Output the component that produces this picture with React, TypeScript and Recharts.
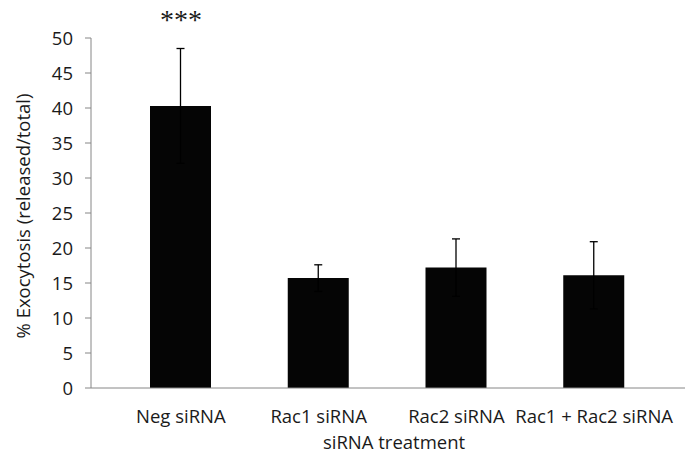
import { BarChart, Bar, XAxis, YAxis, ErrorBar, ReferenceDot, Label, useOffset } from 'recharts';

/* -------------------------------------------------------------------------- */
/*  Data                                                                      */
/* -------------------------------------------------------------------------- */

const treatments = ['Neg siRNA', 'Rac1 siRNA', 'Rac2 siRNA', 'Rac1 + Rac2 siRNA'];
const exocytosis = [40.3, 15.7, 17.2, 16.1];
const stdErr = [8.2, 1.9, 4.1, 4.8];
const yTicks = [0, 5, 10, 15, 20, 25, 30, 35, 40, 45, 50];

const data = treatments.map((name, i) => ({
  name,
  value: exocytosis[i],
  err: stdErr[i],
}));

const FONT = '"Open Sans", sans-serif';
const FONT_SIZE = 18.5;
const AXIS_GREY = '#868686';
const TEXT = '#1a1a1a';

/* -------------------------------------------------------------------------- */
/*  Small pieces                                                              */
/* -------------------------------------------------------------------------- */

// little stub that carries the y axis below the category axis
function OriginTick() {
  const offset = useOffset();
  if (!offset) return null;
  const x = offset.left;
  const y = offset.top + offset.height;
  return <line x1={x} y1={y} x2={x} y2={y + 7} stroke={AXIS_GREY} strokeWidth={1} />;
}

function YTitle({ viewBox }: { viewBox?: { x: number; y: number; width: number; height: number } }) {
  if (!viewBox) return null;
  const cx = 22;
  const cy = viewBox.y + viewBox.height / 2 + 3;
  return (
    <text
      x={cx}
      y={cy}
      transform={`rotate(-90 ${cx} ${cy})`}
      textAnchor="middle"
      dominantBaseline="central"
      fontFamily={FONT}
      fontSize={FONT_SIZE}
      fill={TEXT}
    >
      % Exocytosis (released/total)
    </text>
  );
}

function XTitle({ viewBox }: { viewBox?: { x: number; y: number; width: number; height: number } }) {
  if (!viewBox) return null;
  return (
    <text
      x={viewBox.x + viewBox.width / 2 + 6}
      y={449}
      textAnchor="middle"
      fontFamily={FONT}
      fontSize={FONT_SIZE}
      fill={TEXT}
    >
      siRNA treatment
    </text>
  );
}

function Stars({ viewBox }: { viewBox?: { x: number; y: number } }) {
  if (!viewBox) return null;
  return (
    <text
      x={viewBox.x}
      y={viewBox.y - 20}
      textAnchor="middle"
      fontFamily='"Liberation Serif", serif'
      fontSize={28}
      fill={TEXT}
    >
      ***
    </text>
  );
}

/* -------------------------------------------------------------------------- */
/*  Chart                                                                     */
/* -------------------------------------------------------------------------- */

export default function App() {
  const top = data[0];
  return (
    <div style={{ position: 'absolute', left: 0, top: 0, background: '#fff' }}>
      <BarChart width={685} height={460} data={data} margin={{ top: 38, right: 0, bottom: 0, left: 0 }}>
        <XAxis
          dataKey="name"
          height={72}
          padding={{ left: 21, right: 22 }}
          axisLine={{ stroke: AXIS_GREY }}
          tickLine={false}
          tickSize={6}
          tickMargin={16}
          tick={{ fontFamily: FONT, fontSize: FONT_SIZE, fill: TEXT }}
          interval={0}
        >
          <Label content={<XTitle />} />
        </XAxis>
        <YAxis
          width={91}
          domain={[0, 50]}
          ticks={yTicks}
          interval={0}
          axisLine={{ stroke: AXIS_GREY }}
          tickLine={{ stroke: AXIS_GREY }}
          tickSize={6}
          tickMargin={12}
          tick={{ fontFamily: FONT, fontSize: FONT_SIZE, fill: TEXT }}
        >
          <Label content={<YTitle />} />
        </YAxis>
        <Bar dataKey="value" fill="#050505" barSize={61} isAnimationActive={false}>
          <ErrorBar dataKey="err" width={4} stroke="#000" strokeWidth={1.3} direction="y" />
        </Bar>
        <ReferenceDot
          x={top.name}
          y={top.value + top.err}
          r={0}
          fill="none"
          stroke="none"
          label={<Stars />}
        />
        <OriginTick />
      </BarChart>
    </div>
  );
}
